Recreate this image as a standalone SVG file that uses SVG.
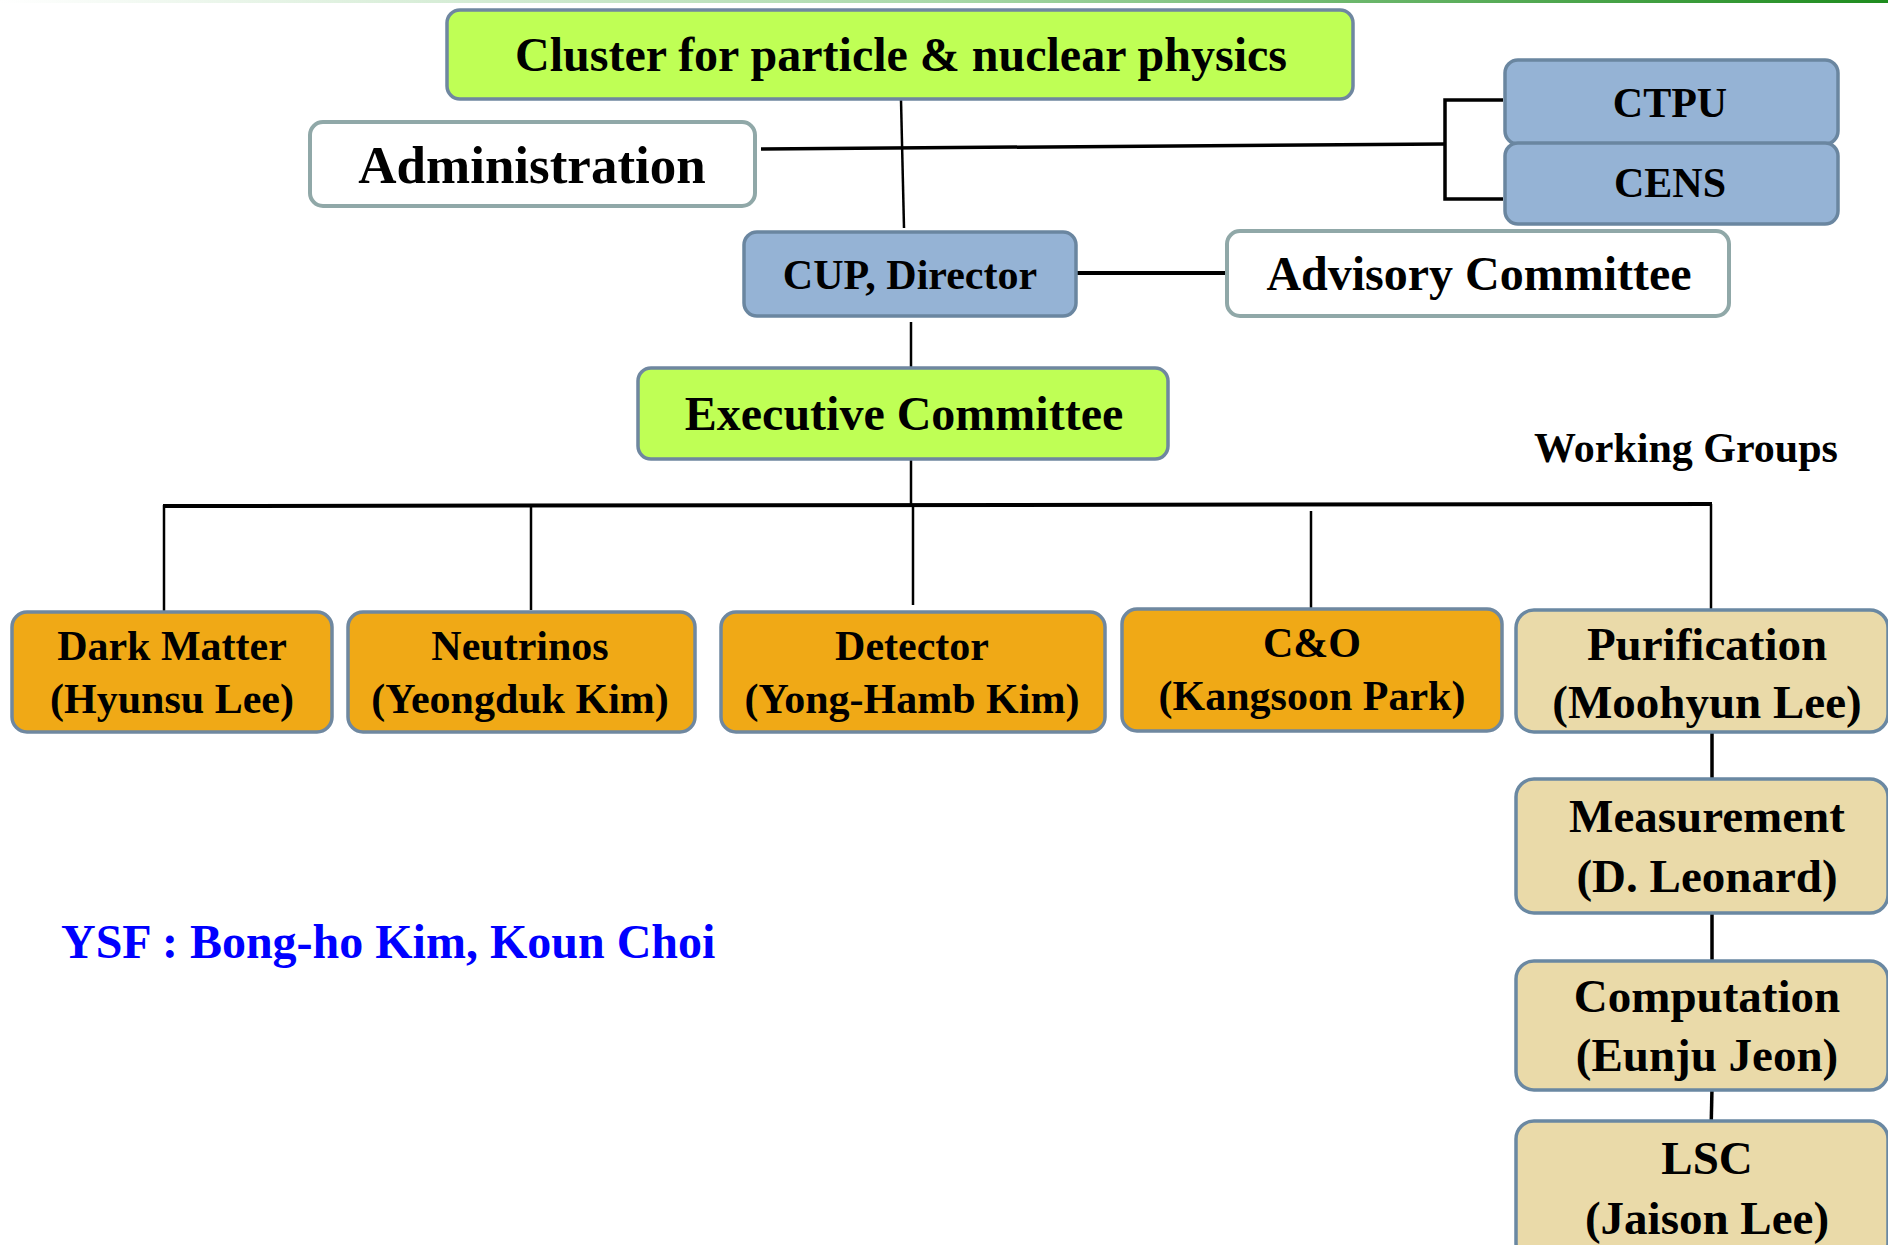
<svg xmlns="http://www.w3.org/2000/svg" width="1888" height="1245" viewBox="0 0 1888 1245">
<defs>
<linearGradient id="topline" x1="0" y1="0" x2="1" y2="0">
<stop offset="0" stop-color="#ffffff"/>
<stop offset="0.5" stop-color="#a8d8a8"/>
<stop offset="1" stop-color="#1e8c1e"/>
</linearGradient>
<style>
.t{font-family:"Liberation Serif","Times New Roman",serif;font-weight:bold;fill:#000;text-anchor:middle}
.green{fill:#bfff55;stroke:#6f87a0;stroke-width:3.5}
.blue{fill:#95b3d5;stroke:#6a86a0;stroke-width:3.5}
.white{fill:#ffffff;stroke:#90a8a8;stroke-width:4}
.orange{fill:#f0a916;stroke:#6f88a0;stroke-width:3.5}
.tan{fill:#eadaa9;stroke:#6a88a2;stroke-width:3.5}
.c{stroke:#000;fill:none}
</style>
</defs>
<rect x="0" y="0" width="1888" height="1245" fill="#ffffff"/>
<rect x="0" y="0" width="1888" height="3" fill="url(#topline)"/>

<g id="connectors">
<line class="c" x1="901" y1="100" x2="904" y2="228" stroke-width="2.5"/>
<line class="c" x1="761" y1="149" x2="1445" y2="144" stroke-width="3.5"/>
<polyline class="c" points="1503,100 1445,100 1445,199 1503,199" stroke-width="3.5"/>
<line class="c" x1="1076" y1="273" x2="1227" y2="273" stroke-width="4"/>
<line class="c" x1="911" y1="322" x2="911" y2="368" stroke-width="2.5"/>
<line class="c" x1="911" y1="460" x2="911" y2="505" stroke-width="2.5"/>
<line class="c" x1="163" y1="506" x2="1712" y2="504" stroke-width="4"/>
<line class="c" x1="164" y1="505" x2="164" y2="612" stroke-width="2.5"/>
<line class="c" x1="531" y1="505" x2="531" y2="610" stroke-width="2.5"/>
<line class="c" x1="913" y1="505" x2="913" y2="605" stroke-width="2.5"/>
<line class="c" x1="1311" y1="511" x2="1311" y2="609" stroke-width="2.5"/>
<line class="c" x1="1711" y1="504" x2="1711" y2="611" stroke-width="2.5"/>
<line class="c" x1="1712" y1="732" x2="1712" y2="779" stroke-width="3.5"/>
<line class="c" x1="1712" y1="913" x2="1712" y2="960" stroke-width="3.5"/>
<line class="c" x1="1712" y1="1088" x2="1711" y2="1133" stroke-width="3.5"/>
</g>

<g id="cluster">
<rect class="green" x="447" y="10" width="906" height="89" rx="13"/>
<text class="t" x="901" y="71" font-size="48">Cluster for particle &amp; nuclear physics</text>
</g>
<g id="administration">
<rect class="white" x="310" y="122" width="445" height="84" rx="13"/>
<text class="t" x="532" y="183" font-size="53">Administration</text>
</g>
<g id="ctpu">
<rect class="blue" x="1505" y="60" width="333" height="84" rx="13"/>
<text class="t" x="1670" y="117" font-size="42">CTPU</text>
</g>
<g id="cens">
<rect class="blue" x="1505" y="143" width="333" height="81" rx="13"/>
<text class="t" x="1670" y="197" font-size="42">CENS</text>
</g>
<g id="cup-director">
<rect class="blue" x="744" y="232" width="332" height="84" rx="13"/>
<text class="t" x="910" y="289" font-size="42">CUP, Director</text>
</g>
<g id="advisory">
<rect class="white" x="1227" y="231" width="502" height="85" rx="13"/>
<text class="t" x="1479" y="290" font-size="48">Advisory Committee</text>
</g>
<g id="executive">
<rect class="green" x="638" y="368" width="530" height="91" rx="13"/>
<text class="t" x="904" y="430" font-size="48">Executive Committee</text>
</g>
<g id="working-groups">
<text class="t" x="1686" y="462" font-size="42">Working Groups</text>
</g>
<g id="dark-matter">
<rect class="orange" x="12" y="612" width="320" height="120" rx="15"/>
<text class="t" x="172" y="660" font-size="42">Dark Matter</text>
<text class="t" x="172" y="713" font-size="42">(Hyunsu Lee)</text>
</g>
<g id="neutrinos">
<rect class="orange" x="348" y="612" width="347" height="120" rx="15"/>
<text class="t" x="520" y="660" font-size="42">Neutrinos</text>
<text class="t" x="520" y="713" font-size="42">(Yeongduk Kim)</text>
</g>
<g id="detector">
<rect class="orange" x="721" y="612" width="384" height="120" rx="15"/>
<text class="t" x="912" y="660" font-size="42">Detector</text>
<text class="t" x="912" y="713" font-size="42">(Yong-Hamb Kim)</text>
</g>
<g id="c-and-o">
<rect class="orange" x="1122" y="609" width="380" height="122" rx="15"/>
<text class="t" x="1312" y="657" font-size="42">C&amp;O</text>
<text class="t" x="1312" y="710" font-size="42">(Kangsoon Park)</text>
</g>
<g id="purification">
<rect class="tan" x="1516" y="610" width="372" height="122" rx="18"/>
<text class="t" x="1707" y="660" font-size="47">Purification</text>
<text class="t" x="1707" y="718" font-size="47">(Moohyun Lee)</text>
</g>
<g id="measurement">
<rect class="tan" x="1516" y="779" width="372" height="134" rx="18"/>
<text class="t" x="1707" y="832" font-size="47">Measurement</text>
<text class="t" x="1707" y="892" font-size="47">(D. Leonard)</text>
</g>
<g id="computation">
<rect class="tan" x="1516" y="961" width="372" height="129" rx="18"/>
<text class="t" x="1707" y="1012" font-size="47">Computation</text>
<text class="t" x="1707" y="1071" font-size="47">(Eunju Jeon)</text>
</g>
<g id="lsc">
<rect class="tan" x="1516" y="1121" width="372" height="140" rx="18"/>
<text class="t" x="1707" y="1174" font-size="47">LSC</text>
<text class="t" x="1707" y="1234" font-size="47">(Jaison Lee)</text>
</g>
<g id="ysf">
<text x="61" y="958" font-size="48" font-family="&quot;Liberation Serif&quot;,&quot;Times New Roman&quot;,serif" font-weight="bold" fill="#0000ff">YSF : Bong-ho Kim, Koun Choi</text>
</g>
</svg>
